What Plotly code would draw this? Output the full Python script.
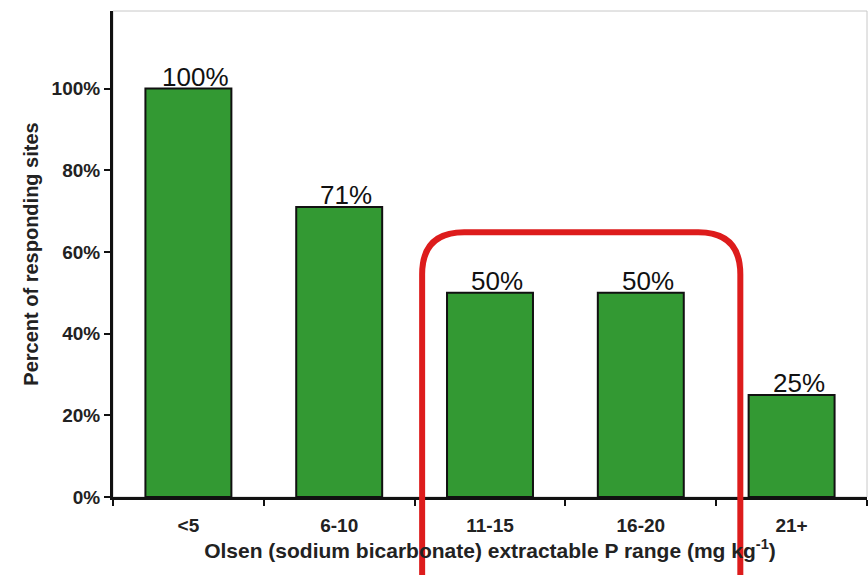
import plotly.graph_objects as go

# Olsen P ranges and share of sites responding to P fertiliser
categories = ["<5", "6-10", "11-15", "16-20", "21+"]
responding_pct = [100, 71, 50, 50, 25]
value_labels = ["100%", "71%", "50%", "50%", "25%"]
y_ticks = [0, 20, 40, 60, 80, 100]
highlighted = ["11-15", "16-20"]

W, H = 868, 575
M_L, M_R, M_T, M_B = 113, 1, 11, 78
Y_MAX = 119

FONT = "Liberation Sans, Arial, sans-serif"
GREEN = "#339933"

fig = go.Figure(
    go.Bar(
        x=categories,
        y=responding_pct,
        marker=dict(color=GREEN, line=dict(color="#111111", width=2)),
        width=0.57,
        hoverinfo="skip",
    )
)

# value labels above each bar
for cat, val, lab in zip(categories, responding_pct, value_labels):
    fig.add_annotation(
        x=cat, y=val, text=lab, showarrow=False,
        yanchor="bottom", xshift=7, yshift=-5,
        font=dict(family=FONT, size=26, color="#111111"),
    )

# rounded red outline around the highlighted ranges
plot_w = W - M_L - M_R
plot_h = H - M_T - M_B
n = len(categories)
i0 = categories.index(highlighted[0])
i1 = categories.index(highlighted[-1])
x0 = (i0 - 0.45 + 0.5) / n
x1 = (i1 + 0.66 + 0.5) / n
y1 = 64.8 / Y_MAX
y0 = -0.2
rx = 42 / plot_w
ry = 42 / plot_h
path = (
    f"M {x0} {y0} L {x0} {y1 - ry} Q {x0} {y1} {x0 + rx} {y1} "
    f"L {x1 - rx} {y1} Q {x1} {y1} {x1} {y1 - ry} L {x1} {y0}"
)
fig.add_shape(
    type="path", path=path, xref="paper", yref="paper",
    line=dict(color="#dd1c1c", width=6), layer="above",
)

# light frame around the plotting area
fig.add_shape(
    type="rect", xref="paper", yref="paper", x0=0, x1=1, y0=0, y1=1,
    line=dict(color="#c8c8c8", width=1), layer="below",
)

fig.update_layout(
    width=W, height=H,
    margin=dict(l=M_L, r=M_R, t=M_T, b=M_B),
    paper_bgcolor="white", plot_bgcolor="white",
    showlegend=False,
    font=dict(family=FONT, color="#222222"),
)
fig.update_xaxes(
    showline=True, linecolor="#111111", linewidth=3,
    ticks="outside", tickson="boundaries", ticklen=6, tickwidth=2, tickcolor="#111111",
    tickvals=categories, ticktext=[f"<b>{c}</b>" for c in categories],
    tickfont=dict(family=FONT, size=19, color="#222222"),
    ticklabelstandoff=9,
    showgrid=False,
    title=dict(
        text="<b>Olsen (sodium bicarbonate) extractable P range (mg kg<sup>-1</sup>)</b>",
        font=dict(family=FONT, size=21, color="#222222"), standoff=6,
    ),
)
fig.update_yaxes(
    range=[0, Y_MAX],
    showline=True, linecolor="#111111", linewidth=3,
    ticks="outside", ticklen=6, tickwidth=2, tickcolor="#111111",
    tickvals=y_ticks, ticktext=[f"<b>{v}%</b>" for v in y_ticks],
    tickfont=dict(family=FONT, size=19, color="#222222"),
    showgrid=False, zeroline=False,
    title=dict(
        text="<b>Percent of responding sites</b>",
        font=dict(family=FONT, size=20, color="#222222"), standoff=8,
    ),
)

fig.write_html("out.html")
